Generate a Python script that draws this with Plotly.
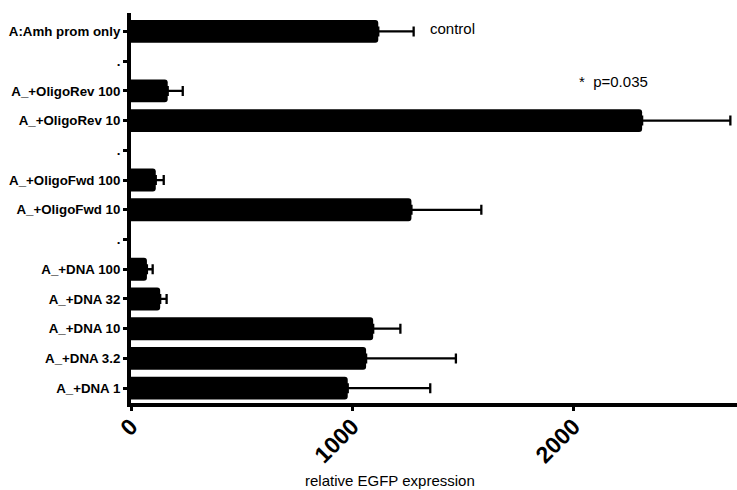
import plotly.graph_objects as go

categories = ["A:Amh prom only", ".", "A_+OligoRev 100", "A_+OligoRev 10", ".",
              "A_+OligoFwd 100", "A_+OligoFwd 10", ".",
              "A_+DNA 100", "A_+DNA 32", "A_+DNA 10", "A_+DNA 3.2", "A_+DNA 1"]
values = [1118, None, 166, 2311, None, 112, 1268, None, 72, 132, 1095, 1063, 980]
errors = [160, None, 68, 399, None, 36, 316, None, 26, 29, 123, 406, 373]
x_ticks = [0, 1000, 2000]

positions = list(range(len(categories)))

fig = go.Figure()
fig.add_trace(go.Bar(
    x=values, y=positions, orientation="h",
    marker=dict(color="black", line=dict(width=0)),
    error_x=dict(type="data", array=errors, arrayminus=[0] * len(errors),
                 symmetric=False, color="black", thickness=2.3, width=5),
    showlegend=False,
))

fig.update_layout(
    width=737, height=490,
    margin=dict(l=131, r=0, t=13, b=87),
    paper_bgcolor="white", plot_bgcolor="white",
    bargap=0.23, barcornerradius=3,
    font=dict(family="Liberation Sans, Arial, sans-serif", color="black"),
    xaxis=dict(range=[0, 2740], tickvals=x_ticks, ticktext=[str(v) for v in x_ticks],
               tickangle=-45, tickfont=dict(size=23, family="Liberation Sans, Arial", weight="bold"),
               ticklabelstandoff=-7,
               showline=True, linewidth=4, linecolor="black", ticks="outside",
               ticklen=4, tickwidth=3, tickcolor="black", showgrid=False, zeroline=False),
    yaxis=dict(range=[12.5, -0.62], tickvals=positions, ticktext=categories,
               tickfont=dict(size=13.3, family="Liberation Sans, Arial", weight="bold"),
               showline=True, linewidth=4, linecolor="black", ticks="outside",
               ticklen=4, tickwidth=3, tickcolor="black", showgrid=False, zeroline=False),
    annotations=[
        dict(text="relative EGFP expression", xref="paper", yref="paper",
             x=0.428, y=0, yshift=-77, xanchor="center", yanchor="middle",
             showarrow=False, font=dict(size=15)),
        dict(text="control", xref="x", yref="y", x=1345, y=0, yshift=3,
             xanchor="left", yanchor="middle", showarrow=False, font=dict(size=15)),
        dict(text="*&nbsp; p=0.035", xref="x", yref="y", x=2017, y=1.7,
             xanchor="left", yanchor="middle", showarrow=False, font=dict(size=15)),
    ],
)

fig.write_html("out.html")
